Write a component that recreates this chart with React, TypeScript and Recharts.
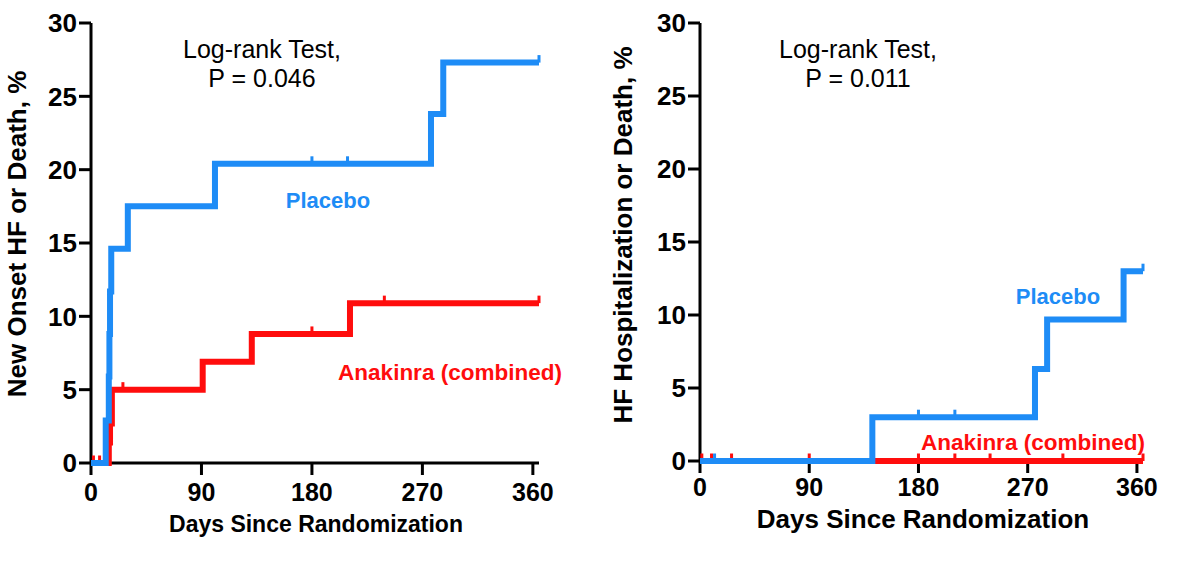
import React from "react";
import { LineChart, Line, XAxis, YAxis, Label } from "recharts";

const dayTicks = [0, 90, 180, 270, 360];
const pctTicks = [0, 5, 10, 15, 20, 25, 30];

// left panel: new onset HF or death
const onsetPlaceboDays = [0, 12, 14.5, 15, 15.5, 16.5, 30, 101, 277, 287];
const onsetPlaceboPct = [0, 2.9, 5.9, 8.8, 11.7, 14.6, 17.5, 20.4, 23.8, 27.3];
const onsetPlaceboCensored = [180, 209, 365];

const onsetAnakinraDays = [0, 14.5, 15.5, 17, 91, 131, 211];
const onsetAnakinraPct = [0, 1.4, 2.7, 5.0, 6.9, 8.8, 10.9];
const onsetAnakinraCensored = [2, 7, 26, 180, 239, 365];

// right panel: HF hospitalization or death
const hospPlaceboDays = [0, 142, 276, 286, 349];
const hospPlaceboPct = [0, 3.0, 6.3, 9.7, 13.0];
const hospPlaceboCensored = [12, 180, 210, 365];

const hospAnakinraDays = [0];
const hospAnakinraPct = [0];
const hospAnakinraCensored = [1.5, 9.5, 26, 90, 180, 210, 239, 299, 365];

const BLUE = "#1e8cf6";
const RED = "#ff0d0d";
const FONT = "'Liberation Sans', Arial, Helvetica, sans-serif";

type Row = { day: number; pct: number; censored: boolean };

function km(days: number[], pct: number[], censored: number[]): Row[] {
  const rows: Row[] = days.map((d, i) => ({ day: d, pct: pct[i], censored: false }));
  censored.forEach((d) => {
    let i = 0;
    while (i + 1 < days.length && days[i + 1] <= d) i++;
    rows.push({ day: d, pct: pct[i], censored: true });
  });
  return rows.sort((a, b) => a.day - b.day);
}

const censorTick = (color: string) => (p: any) =>
  p.payload && p.payload.censored ? (
    <rect key={p.index} x={p.cx - 1.5} y={p.cy - 7.5} width={3} height={7.5} fill={color} />
  ) : (
    <g key={p.index} />
  );

type TextSpec = {
  x: number;
  y: number;
  text: string;
  size: number;
  color?: string;
  bold?: boolean;
  rotate?: boolean;
};

function Texts({ items }: { items: TextSpec[] }) {
  return (
    <g>
      {items.map((t, i) => (
        <text
          key={i}
          x={t.x}
          y={t.y}
          textAnchor="middle"
          fontFamily={FONT}
          fontSize={t.size}
          fontWeight={t.bold ? 700 : 400}
          fill={t.color || "#000"}
          transform={t.rotate ? `rotate(-90 ${t.x} ${t.y})` : undefined}
        >
          {t.text}
        </text>
      ))}
    </g>
  );
}

function Panel(props: {
  left: number;
  yAxisWidth: number;
  right: number;
  bottom: number;
  tickGap: number;
  placebo: Row[];
  anakinra: Row[];
  texts: TextSpec[];
}) {
  return (
    <div style={{ position: "absolute", left: props.left, top: 0 }}>
      <LineChart
        width={600}
        height={562}
        margin={{ top: 23, right: props.right, bottom: props.bottom, left: 0 }}
      >
        <XAxis
          dataKey="day"
          type="number"
          domain={[0, 365]}
          ticks={dayTicks}
          height={40}
          axisLine={{ stroke: "#000", strokeWidth: 3 }}
          tickLine={{ stroke: "#000", strokeWidth: 3 }}
          tickSize={12}
          tickMargin={props.tickGap}
          tick={{ fill: "#000", fontSize: 25, fontWeight: 700, fontFamily: FONT }}
        >
          <Label content={() => <Texts items={props.texts} />} />
        </XAxis>
        <YAxis
          type="number"
          domain={[0, 30]}
          ticks={pctTicks}
          width={props.yAxisWidth}
          axisLine={{ stroke: "#000", strokeWidth: 3 }}
          tickLine={{ stroke: "#000", strokeWidth: 3 }}
          tickSize={12}
          tickMargin={2}
          tick={{ fill: "#000", fontSize: 26, fontWeight: 700, fontFamily: FONT }}
        />
        <Line
          data={props.anakinra}
          dataKey="pct"
          type="stepAfter"
          stroke={RED}
          strokeWidth={6}
          dot={censorTick(RED)}
          activeDot={false}
          isAnimationActive={false}
          zIndex={600}
        />
        <Line
          data={props.placebo}
          dataKey="pct"
          type="stepAfter"
          stroke={BLUE}
          strokeWidth={6}
          dot={censorTick(BLUE)}
          activeDot={false}
          isAnimationActive={false}
          zIndex={601}
        />
      </LineChart>
    </div>
  );
}

export default function App() {
  const leftTexts: TextSpec[] = [
    { x: 26, y: 234, text: "New Onset HF or Death, %", size: 26, bold: true, rotate: true },
    { x: 316, y: 532, text: "Days Since Randomization", size: 23, bold: true },
    { x: 262, y: 58, text: "Log-rank Test,", size: 25 },
    { x: 262, y: 87, text: "P = 0.046", size: 25 },
    { x: 328, y: 208, text: "Placebo", size: 22, bold: true, color: BLUE },
    { x: 450, y: 380, text: "Anakinra (combined)", size: 22.5, bold: true, color: RED },
  ];
  const rightTexts: TextSpec[] = [
    { x: 32, y: 235, text: "HF Hospitalization or Death, %", size: 26, bold: true, rotate: true },
    { x: 323, y: 528, text: "Days Since Randomization", size: 26, bold: true },
    { x: 258, y: 58, text: "Log-rank Test,", size: 25 },
    { x: 258, y: 87, text: "P = 0.011", size: 25 },
    { x: 458, y: 304, text: "Placebo", size: 22, bold: true, color: BLUE },
    { x: 433, y: 450, text: "Anakinra (combined)", size: 22.5, bold: true, color: RED },
  ];
  return (
    <div
      style={{
        position: "absolute",
        left: 0,
        top: 0,
        width: 1200,
        height: 562,
        background: "#fff",
        overflow: "hidden",
      }}
    >
      <Panel
        left={0}
        yAxisWidth={91}
        right={61}
        bottom={59}
        tickGap={8}
        placebo={km(onsetPlaceboDays, onsetPlaceboPct, onsetPlaceboCensored)}
        anakinra={km(onsetAnakinraDays, onsetAnakinraPct, onsetAnakinraCensored)}
        texts={leftTexts}
      />
      <Panel
        left={600}
        yAxisWidth={100}
        right={57}
        bottom={61}
        tickGap={5}
        placebo={km(hospPlaceboDays, hospPlaceboPct, hospPlaceboCensored)}
        anakinra={km(hospAnakinraDays, hospAnakinraPct, hospAnakinraCensored)}
        texts={rightTexts}
      />
    </div>
  );
}
